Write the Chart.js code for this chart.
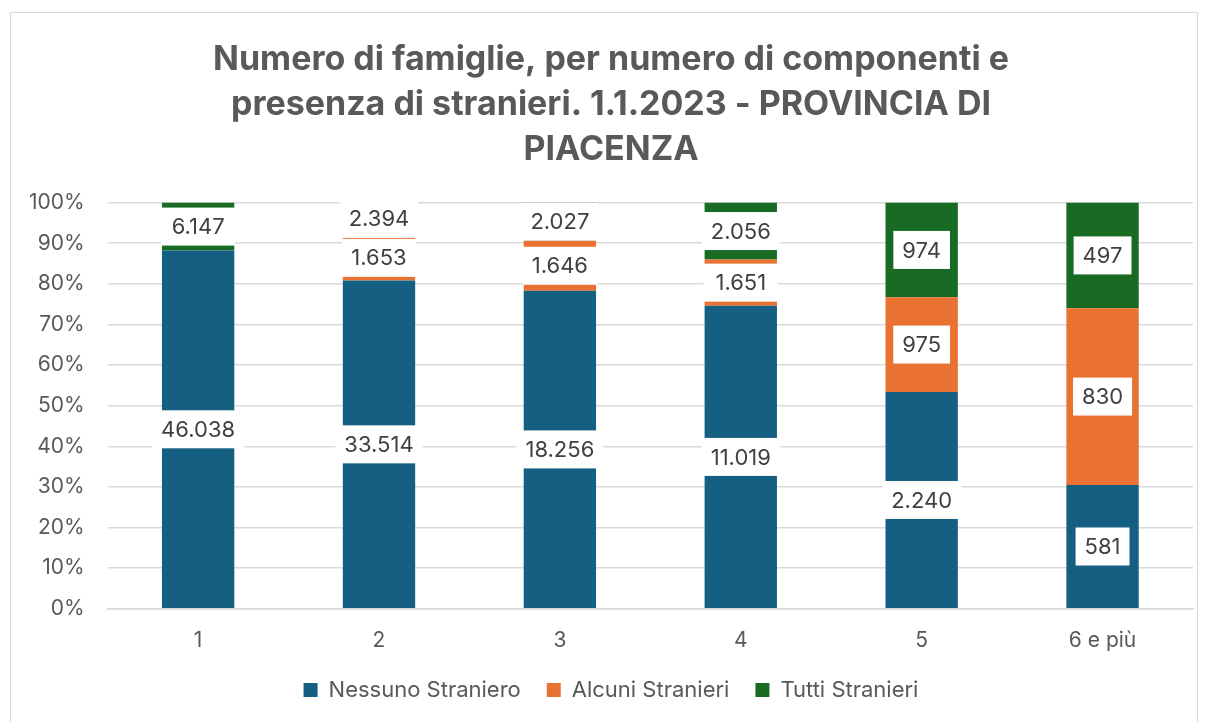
<!DOCTYPE html>
<html lang="it">
<head>
<meta charset="utf-8">
<title>Famiglie per numero di componenti - Piacenza</title>
<script src="https://cdn.jsdelivr.net/npm/chart.js@4"></script>
<style>
  html, body { margin: 0; padding: 0; background: #fff; }
  .box {
    position: absolute;
    left: 10px; top: 12px;
    width: 1188px; height: 712px;
    border: 1.5px solid #d9d9d9;
    box-sizing: border-box;
  }
  canvas { display: block; }
</style>
</head>
<body>
<div class="box"><canvas id="chart"></canvas></div>
<script>
// categorie (numero di componenti)
const categorie = ['1', '2', '3', '4', '5', '6 e più'];

// quote percentuali (barre 100% in pila)
const nessunoPct = [88.2, 80.8, 78.3, 74.6, 53.4, 30.5];
const alcuniPct  = [0, 11.2, 12.3, 11.4, 23.3, 43.5];
const tuttiPct   = [11.8, 8.0, 9.4, 14.0, 23.3, 26.0];

// etichette dati (numero di famiglie)
const nessunoLbl = ['46.038', '33.514', '18.256', '11.019', '2.240', '581'];
const alcuniLbl  = ['', '1.653', '1.646', '1.651', '975', '830'];
const tuttiLbl   = ['6.147', '2.394', '2.027', '2.056', '974', '497'];

const titolo = [
  'Numero di famiglie, per numero di componenti e',
  'presenza di stranieri. 1.1.2023 - PROVINCIA DI',
  'PIACENZA'
];

const BLU = '#156082';
const ARANCIO = '#E97132';
const VERDE = '#196B24';
const GRID = '#d9d9d9';
const TESTO = '#595959';
const FONT = "Inter, 'Liberation Sans', sans-serif";

const etichette = [nessunoLbl, alcuniLbl, tuttiLbl];

// disegna le etichette con riquadro bianco al centro di ogni segmento
const labelPlugin = {
  id: 'etichette',
  afterDatasetsDraw(chart) {
    const ctx = chart.ctx;
    ctx.save();
    ctx.font = '22px ' + FONT;
    ctx.textAlign = 'center';
    ctx.textBaseline = 'middle';
    chart.data.datasets.forEach((ds, di) => {
      const meta = chart.getDatasetMeta(di);
      meta.data.forEach((bar, i) => {
        const txt = etichette[di][i];
        if (!txt) return;
        const y = (bar.y + bar.base) / 2;
        let w = ctx.measureText(txt).width + 18;
        // evita sottili bordi colorati quando il riquadro è largo quasi quanto la barra
        if (w > bar.width - 6) w = Math.max(w, bar.width + 2);
        const h = 38;
        ctx.fillStyle = '#ffffff';
        ctx.fillRect(bar.x - w / 2, y - h / 2, w, h);
        ctx.fillStyle = '#404040';
        ctx.fillText(txt, bar.x, y + 1);
      });
    });
    ctx.restore();
  }
};

new Chart(document.getElementById('chart'), {
  type: 'bar',
  data: {
    labels: categorie,
    datasets: [
      { label: 'Nessuno Straniero', data: nessunoPct, backgroundColor: BLU },
      { label: 'Alcuni Stranieri', data: alcuniPct, backgroundColor: ARANCIO },
      { label: 'Tutti Stranieri', data: tuttiPct, backgroundColor: VERDE }
    ]
  },
  options: {
    responsive: true,
    maintainAspectRatio: false,
    animation: false,
    categoryPercentage: 1,
    barPercentage: 0.4,
    layout: { padding: { left: 18, right: 4, top: 25, bottom: 12 } },
    plugins: {
      title: {
        display: true,
        text: titolo,
        color: TESTO,
        font: { family: FONT, size: 34, weight: 'bold', lineHeight: 1.31 },
        padding: { top: 0, bottom: 31 }
      },
      legend: {
        position: 'bottom',
        labels: {
          color: TESTO,
          font: { family: FONT, size: 22 },
          boxWidth: 14,
          boxHeight: 14,
          padding: 26
        }
      },
      tooltip: { enabled: false }
    },
    scales: {
      x: {
        stacked: true,
        grid: { display: false, tickLength: 19 },
        border: { color: GRID, width: 1.5 },
        ticks: { color: TESTO, font: { family: FONT, size: 21 }, padding: 0 }
      },
      y: {
        stacked: true,
        min: 0,
        max: 100,
        grid: { color: GRID, lineWidth: 1.5, tickLength: 23, tickColor: 'rgba(0,0,0,0)' },
        border: { display: false },
        ticks: {
          stepSize: 10,
          color: TESTO,
          font: { family: FONT, size: 21 },
          padding: 0,
          callback: v => v + '%'
        }
      }
    }
  },
  plugins: [labelPlugin]
});
</script>
</body>
</html>
